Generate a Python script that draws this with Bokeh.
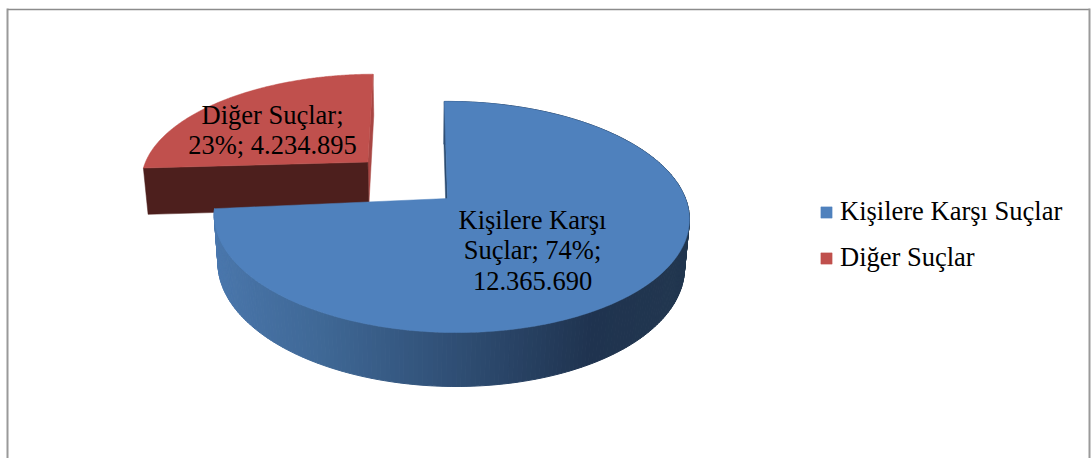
import numpy as np
from bokeh.plotting import figure
from bokeh.models import Range1d, Legend, LegendItem
from bokeh.core.properties import value
from bokeh.embed import file_html
from bokeh.resources import INLINE

categories = ["Kişilere Karşı Suçlar", "Diğer Suçlar"]
values = [12365690, 4234895]
percents = [74, 23]
top_colors = ["#4F81BD", "#C0504D"]

label_lines = [["Kişilere Karşı", "Suçlar; 74%;", "12.365.690"],
               ["Diğer Suçlar;", "23%; 4.234.895"]]
label_pos = [(532, [219, 249, 280]), (272, [114, 144])]
FONT = "Liberation Serif"
FS = "26.5px"

# projection of the tilted, perspective disc
X0, Y0, AX = 420.0, 198.0, 447.0
R, A, K, H, D = 234.5, 112.6, 0.16, 48.7, 0.018
TILT = 1.5      # degrees the cut edges sit below the horizontal
RIM_SHIFT = 0.015


def project(du, dv, u, v, h):
    vv = v + dv
    den = 1 - K * vv + D * h
    x = X0 + (AX + R * (u + du) - X0) / den
    y = Y0 + (A * vv + H * h) / den
    return x, y


def arc(t0, t1, du, dv, h, n=240):
    t = np.radians(np.linspace(t0, t1, n))
    return project(du, dv, np.sin(t), -np.cos(t), h)


def mix(stops, t):
    c = [np.interp(t, [s[0] for s in stops], [int(s[1][1 + 2 * i:3 + 2 * i], 16) for s in stops]) for i in range(3)]
    return "#%02x%02x%02x" % tuple(int(round(a)) for a in c)


RIM = [(-1, "#4B78AE"), (-0.5, "#3F6896"), (0, "#2F4E74"), (0.5, "#1F334F"), (1, "#22374F")]

blue_start = -0.7
blue_sweep = 360 * percents[0] / 100 - TILT
red_sweep = 360 * values[1] / sum(values)
red_start = 360 - red_sweep - TILT
red_end = 359.5
mid = np.radians(360 - red_sweep / 2)
explode = 0.49
rdu, rdv = explode * np.sin(mid), -explode * np.cos(mid)

p = figure(width=1091, height=458, output_backend="svg", toolbar_location=None,
           x_range=Range1d(0, 1091), y_range=Range1d(458, 0), min_border=0,
           outline_line_color=None)
p.axis.visible = False
p.grid.visible = False
p.background_fill_color = "#FFFFFF"

# chart frame
p.line([7, 7], [8, 458], line_color="#9A9A9A", line_width=2)
p.line([7, 1089], [9, 9], line_color="#8C8C8C", line_width=1.5)
p.line([1089, 1089], [8, 458], line_color="#9A9A9A", line_width=2)


def ring(t0, t1, du, dv):
    xs, ys, cs = [], [], []
    for a in np.arange(t0, t1, 1.0):
        b = min(a + 1.0, t1)
        xa, ya = arc(a, b, du, dv, 0, 2)
        xb, yb = arc(a, b, du, dv, 1, 2)
        xs.append([xa[0], xa[1], xb[1], xb[0]])
        ys.append([ya[0], ya[1], yb[1], yb[0]])
        cs.append(mix(RIM, np.sin(np.radians((a + b) / 2))))
    return xs, ys, cs


def face(theta, cdu, cdv, du, dv, color):
    xe, ye = arc(theta, theta, du, dv, 0, 1)
    xf, yf = arc(theta, theta, du, dv, 1, 1)
    xc, yc = project(cdu, cdv, 0, 0, 0)
    xd, yd = project(cdu, cdv, 0, 0, 1)
    p.patch([xc, xe[0], xf[0], xd], [yc, ye[0], yf[0], yd], fill_color=color, line_color=color, line_width=0.5)


def top(t0, t1, cdu, cdv, du, dv, color):
    x, y = arc(t0, t1, du, dv, 0)
    xc, yc = project(cdu, cdv, 0, 0, 0)
    return p.patch(np.r_[xc, x], np.r_[yc, y], fill_color=color, line_color=color, line_width=0.5)


# red slice (exploded): faces first, then the top surface
face(red_end, rdu, rdv, rdu, rdv, "#A84643")
face(red_start, rdu, rdv, rdu, rdv, "#4D1F1D")
r_red = top(red_start, red_end, rdu, rdv, rdu, rdv, top_colors[1])

# blue slice
face(blue_start, 0, 0, RIM_SHIFT, 0, "#2A4A6F")
xs, ys, cs = ring(90, blue_sweep, RIM_SHIFT, 0)
p.patches(xs, ys, fill_color=cs, line_color=cs, line_width=1)
xs, ys, cs = ring(blue_start, 90, RIM_SHIFT, 0)
p.patches(xs, ys, fill_color=cs, line_color=cs, line_width=1)
r_blue = top(blue_start, blue_sweep, 0, 0, RIM_SHIFT, 0, top_colors[0])

# data labels
for lines, (cx, cys) in zip(label_lines, label_pos):
    p.text([cx] * len(lines), cys, text=lines, text_font=value(FONT), text_font_size=FS,
           text_align="center", text_baseline="middle", text_color="#000000")

legend = Legend(items=[LegendItem(label=value(categories[0]), renderers=[r_blue]),
                       LegendItem(label=value(categories[1]), renderers=[r_red])],
                location=(819, 185), orientation="vertical", glyph_width=14, glyph_height=14,
                label_text_font=FONT, label_text_font_size=FS, label_text_color="#000000",
                label_standoff=7, spacing=15, margin=0, padding=0,
                border_line_color=None, background_fill_alpha=0, label_height=30)
p.add_layout(legend, "center")

open("out.html", "w").write(file_html(p, INLINE))
